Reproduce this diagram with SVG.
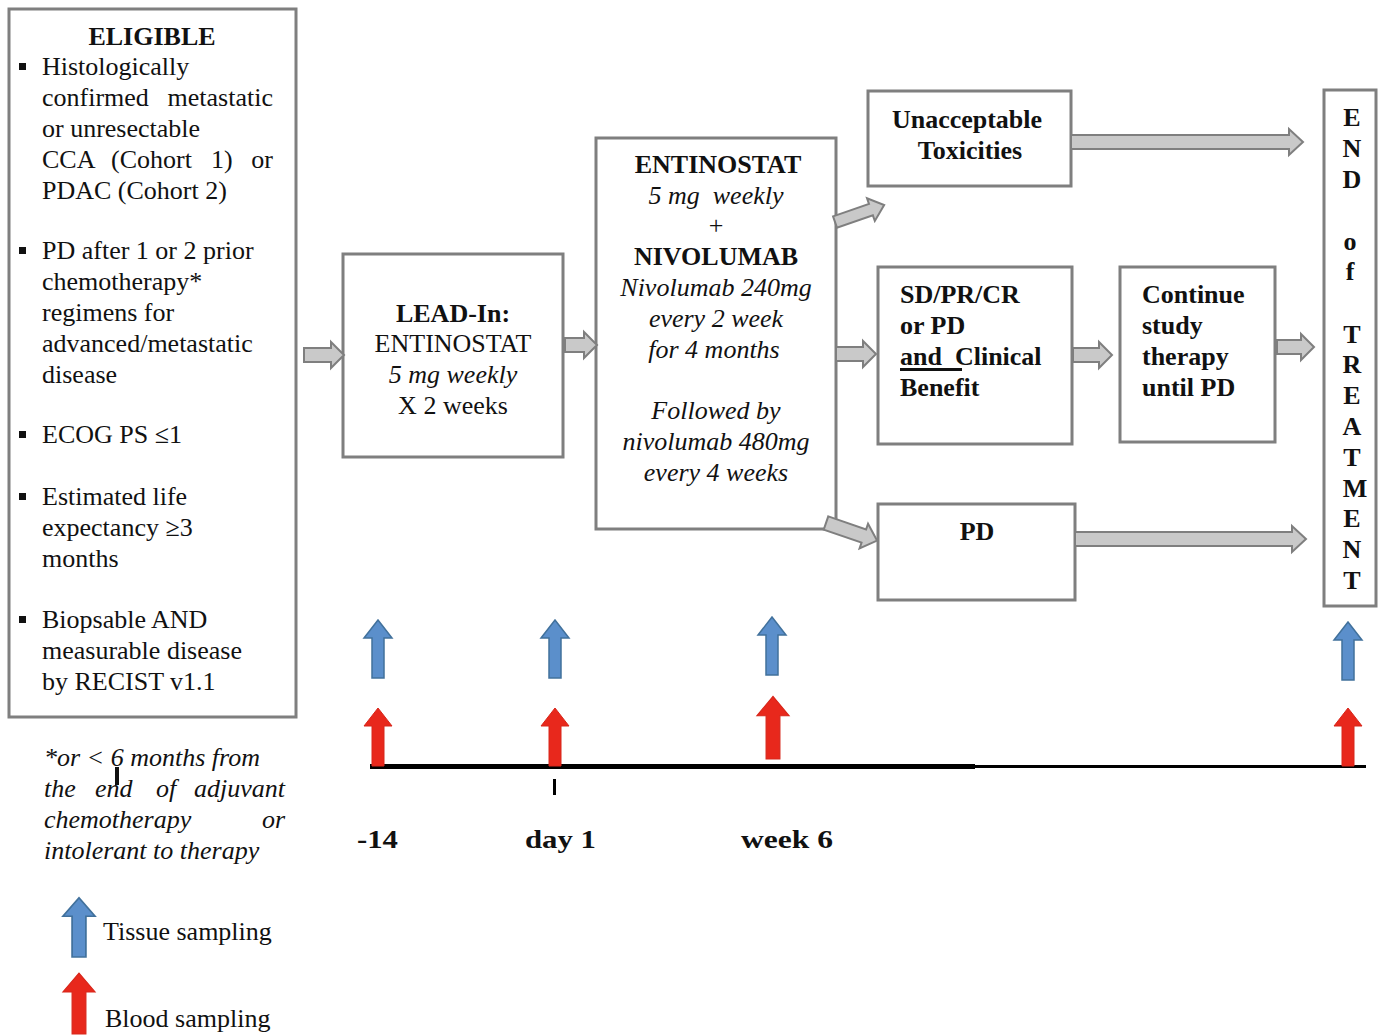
<svg xmlns="http://www.w3.org/2000/svg" xmlns:xlink="http://www.w3.org/1999/xlink" width="1379" height="1036" viewBox="0 0 1379 1036">
<style>
.box{fill:#fff;stroke:#7f7f7f;stroke-width:3}
.t{font-family:"Liberation Serif","Times New Roman",serif;font-size:26px;fill:#111}
.b{font-weight:bold}
.i{font-style:italic}
.c{text-anchor:middle}
.ga{fill:#c9c9c9;stroke:#7f7f7f;stroke-width:2;stroke-linejoin:miter}
.blue{fill:#5b8fcb;stroke:#41719c;stroke-width:1.5}
.red{fill:#e8281c;stroke:#d8261a;stroke-width:1}
.bul{fill:#111}
</style>
<defs>
<path id="up" d="M-6,0 V-40 H-14 L0,-58 L14,-40 H6 V0 Z"/>
</defs>
<rect width="1379" height="1036" fill="#fff"/>

<g id="eligible">
<rect class="box" x="9" y="9" width="287" height="708"/>
<text class="t b c" x="152" y="45" font-size="25">ELIGIBLE</text>
<rect class="bul" x="19" y="63" width="7" height="7"/>
<text class="t" x="42" y="75">Histologically</text>
<text class="t" x="42" y="106">confirmed</text><text class="t" x="273" y="106" text-anchor="end">metastatic</text>
<text class="t" x="42" y="137">or unresectable</text>
<text class="t" x="42" y="168">CCA</text><text class="t" x="111" y="168">(Cohort</text><text class="t" x="211" y="168">1)</text><text class="t" x="273" y="168" text-anchor="end">or</text>
<text class="t" x="42" y="199">PDAC (Cohort 2)</text>
<rect class="bul" x="19" y="247" width="7" height="7"/>
<text class="t" x="42" y="259">PD after 1 or 2 prior</text>
<text class="t" x="42" y="290">chemotherapy*</text>
<text class="t" x="42" y="321">regimens for</text>
<text class="t" x="42" y="352">advanced/metastatic</text>
<text class="t" x="42" y="383">disease</text>
<rect class="bul" x="19" y="431" width="7" height="7"/>
<text class="t" x="42" y="443">ECOG PS ≤1</text>
<rect class="bul" x="19" y="493" width="7" height="7"/>
<text class="t" x="42" y="505">Estimated life</text>
<text class="t" x="42" y="536">expectancy ≥3</text>
<text class="t" x="42" y="567">months</text>
<rect class="bul" x="19" y="616" width="7" height="7"/>
<text class="t" x="42" y="628">Biopsable AND</text>
<text class="t" x="42" y="659">measurable disease</text>
<text class="t" x="42" y="690">by RECIST v1.1</text>
</g>

<g id="footnote">
<text class="t i" x="44" y="766" font-size="25">*or &lt; 6 months from</text>
<text class="t i" x="44" y="797" font-size="25">the</text><text class="t i" x="95" y="797" font-size="25">end</text><text class="t i" x="156" y="797" font-size="25">of</text><text class="t i" x="285" y="797" font-size="25" text-anchor="end">adjuvant</text>
<text class="t i" x="44" y="828" font-size="25">chemotherapy</text><text class="t i" x="285" y="828" font-size="25" text-anchor="end">or</text>
<text class="t i" x="44" y="859" font-size="25">intolerant to therapy</text>
<rect x="115" y="767" width="4" height="18" fill="#111"/>
</g>

<g id="leadin">
<rect class="box" x="343" y="254" width="220" height="203"/>
<text class="t b c" x="453" y="322">LEAD-In:</text>
<text class="t c" x="453" y="352">ENTINOSTAT</text>
<text class="t i c" x="453" y="383">5 mg weekly</text>
<text class="t c" x="453" y="414">X 2 weeks</text>
</g>

<g id="combo">
<rect class="box" x="596" y="138" width="240" height="391"/>
<text class="t b c" x="718" y="173">ENTINOSTAT</text>
<text class="t i c" x="716" y="204" xml:space="preserve">5 mg  weekly</text>
<text class="t c" x="716" y="234">+</text>
<text class="t b c" x="716" y="265">NIVOLUMAB</text>
<text class="t i c" x="716" y="296">Nivolumab 240mg</text>
<text class="t i c" x="716" y="327">every 2 week</text>
<text class="t i c" x="714" y="358">for 4 months</text>
<text class="t i c" x="716" y="419">Followed by</text>
<text class="t i c" x="716" y="450">nivolumab 480mg</text>
<text class="t i c" x="716" y="481">every 4 weeks</text>
</g>

<g id="toxicities">
<rect class="box" x="868" y="91" width="203" height="95"/>
<text class="t b c" x="967" y="128" font-size="25">Unacceptable</text>
<text class="t b c" x="970" y="159" font-size="25">Toxicities</text>
</g>

<g id="benefit">
<rect class="box" x="878" y="267" width="194" height="177"/>
<text class="t b" x="900" y="303">SD/PR/CR</text>
<text class="t b" x="900" y="334">or PD</text>
<text class="t b" x="900" y="365" xml:space="preserve">and  Clinical</text>
<rect x="900" y="368" width="62" height="3" fill="#111"/>
<text class="t b" x="900" y="396">Benefit</text>
</g>

<g id="continue">
<rect class="box" x="1120" y="267" width="155" height="175"/>
<text class="t b" x="1142" y="303">Continue</text>
<text class="t b" x="1142" y="334">study</text>
<text class="t b" x="1142" y="365">therapy</text>
<text class="t b" x="1142" y="396">until PD</text>
</g>

<g id="pd">
<rect class="box" x="878" y="504" width="197" height="96"/>
<text class="t b c" x="977" y="540">PD</text>
</g>

<g id="end">
<rect class="box" x="1324" y="90" width="52" height="516"/>
<g class="t b c" font-size="25">
<text x="1352" y="126">E</text>
<text x="1352" y="157">N</text>
<text x="1352" y="188">D</text>
<text x="1350" y="250">o</text>
<text x="1350" y="280">f</text>
<text x="1352" y="343">T</text>
<text x="1352" y="373">R</text>
<text x="1352" y="404">E</text>
<text x="1352" y="435">A</text>
<text x="1352" y="466">T</text>
<text x="1355" y="497">M</text>
<text x="1352" y="527">E</text>
<text x="1352" y="558">N</text>
<text x="1352" y="589">T</text>
</g>
</g>

<g id="connectors">
<polygon class="ga" points="304,348 331,348 331,342 344,355 331,368 331,362 304,362"/>
<polygon class="ga" points="565,338 584,338 584,332 597,345 584,358 584,352 565,352"/>
<polygon class="ga" points="836,347 863,347 863,341 876,354 863,367 863,361 836,361"/>
<polygon class="ga" points="1073,348 1099,348 1099,342 1112,355 1099,368 1099,362 1073,362"/>
<polygon class="ga" points="1277,340 1301,340 1301,334 1314,347 1301,360 1301,354 1277,354"/>
<polygon class="ga" points="1071,135 1289,135 1289,129 1303,142 1289,155 1289,149 1071,149"/>
<polygon class="ga" points="1075,532 1292,532 1292,526 1306,539 1292,552 1292,546 1075,546"/>
<polygon class="ga" transform="translate(835,222) rotate(-19)" points="0,-6 38,-6 38,-12 52,0 38,12 38,6 0,6"/>
<polygon class="ga" transform="translate(826,523) rotate(19)" points="0,-7 40,-7 40,-13 54,0 40,13 40,7 0,7"/>
</g>

<g id="timeline">
<rect x="370" y="764" width="605" height="5" fill="#000"/>
<rect x="975" y="765" width="391" height="3" fill="#000"/>
<rect x="553" y="779" width="3" height="16" fill="#000"/>
<text class="t b" x="357" y="848" font-size="30" textLength="41" lengthAdjust="spacingAndGlyphs">-14</text>
<text class="t b" x="525" y="848" font-size="30" textLength="71" lengthAdjust="spacingAndGlyphs">day 1</text>
<text class="t b" x="741" y="848" font-size="30" textLength="92" lengthAdjust="spacingAndGlyphs">week 6</text>
</g>

<g id="samples">
<use href="#up" xlink:href="#up" class="blue" transform="translate(378,678)"/>
<use href="#up" xlink:href="#up" class="blue" transform="translate(555,678)"/>
<use href="#up" xlink:href="#up" class="blue" transform="translate(772,675)"/>
<use href="#up" xlink:href="#up" class="blue" transform="translate(1348,680)"/>
<use href="#up" xlink:href="#up" class="red" transform="translate(378,766)"/>
<use href="#up" xlink:href="#up" class="red" transform="translate(555,766)"/>
<use href="#up" xlink:href="#up" class="red" transform="translate(773,759) scale(1.15,1.08)"/>
<use href="#up" xlink:href="#up" class="red" transform="translate(1348,766)"/>
</g>

<g id="legend">
<use href="#up" xlink:href="#up" class="blue" transform="translate(79,957) scale(1.15,1.02)"/>
<text class="t" x="103" y="940">Tissue sampling</text>
<use href="#up" xlink:href="#up" class="red" transform="translate(79,1034) scale(1.15,1.05)"/>
<text class="t" x="105" y="1027">Blood sampling</text>
</g>
</svg>
